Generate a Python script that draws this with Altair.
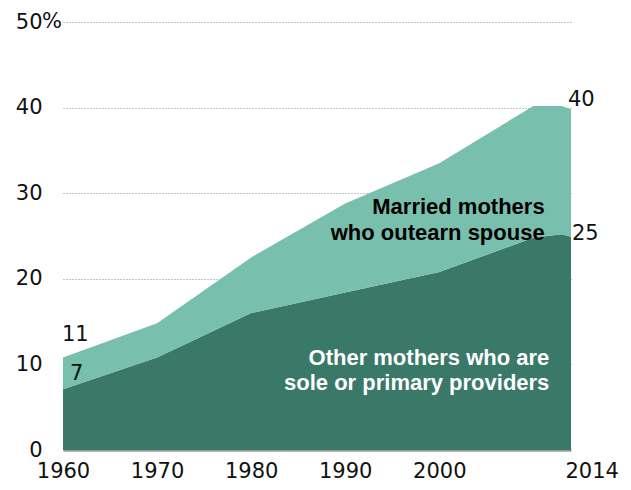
import altair as alt
import pandas as pd

years = [1960, 1970, 1980, 1990, 2000, 2010, 2013, 2014]
other_mothers = [7.1, 10.8, 16.0, 18.4, 20.8, 24.8, 25.2, 24.9]
married_mothers = [3.7, 4.0, 6.5, 10.4, 12.7, 15.4, 15.0, 14.9]
series_names = ["Other mothers who are sole or primary providers",
                "Married mothers who outearn spouse"]
series_colors = ["#3a7868", "#78bfad"]
x_ticks = [1960, 1970, 1980, 1990, 2000, 2014]
y_ticks = [0, 10, 20, 30, 40, 50]

rows = []
for i, yr in enumerate(years):
    rows.append({"year": yr, "series": series_names[0], "value": other_mothers[i], "ord": 0})
    rows.append({"year": yr, "series": series_names[1], "value": married_mothers[i], "ord": 1})
df = pd.DataFrame(rows)

W, H = 508, 428
TICK_FONT = "DejaVu Sans"

x_scale = alt.Scale(domain=[1960, 2014], nice=False, zero=False)
y_scale = alt.Scale(domain=[0, 50], nice=False)

area = alt.Chart(df).mark_area(opacity=1).encode(
    x=alt.X("year:Q", scale=x_scale, title=None,
            axis=alt.Axis(values=x_ticks, format="d", grid=False, ticks=False,
                          domain=True, domainColor="#9a9a9a", domainWidth=2.5,
                          labelFont=TICK_FONT, labelFontSize=21, labelColor="#111",
                          labelPadding=10, labelBaseline="top",
                          labelAlign=alt.condition("datum.value == 2014", alt.value("left"), alt.value("center")),
                          labelOffset=alt.condition("datum.value == 2014", alt.value(-6), alt.value(0)),
                          labelFlush=False, labelOverlap=False)),
    y=alt.Y("value:Q", stack="zero", scale=y_scale, title=None,
            axis=alt.Axis(values=y_ticks, grid=True, gridColor="#8a8a8a", gridDash=[1, 2],
                          gridWidth=1,
                          gridOpacity=alt.condition("datum.value == 0", alt.value(0), alt.value(1)),
                          ticks=False, domain=False,
                          labelFont=TICK_FONT, labelFontSize=21, labelColor="#111",
                          labelPadding=21, labelAlign="right", labelBaseline="middle")),
    color=alt.Color("series:N", scale=alt.Scale(domain=series_names, range=series_colors), legend=None),
    order=alt.Order("ord:Q"),
)

pct = alt.Chart(pd.DataFrame({"v": [50], "t": ["%"]})).mark_text(
    align="left", baseline="middle", font=TICK_FONT, fontSize=21, color="#111", dx=-21
).encode(x=alt.value(0), y=alt.Y("v:Q", scale=y_scale), text="t:N")

def vlabel(year, val, txt, dx, dy):
    return alt.Chart(pd.DataFrame({"year": [year], "v": [val], "t": [txt]})).mark_text(
        align="left", baseline="alphabetic", font=TICK_FONT, fontSize=21, color="#111", dx=dx, dy=dy
    ).encode(x=alt.X("year:Q", scale=x_scale), y=alt.Y("v:Q", scale=y_scale), text="t:N")

total_1960 = other_mothers[0] + married_mothers[0]
total_2014 = other_mothers[-1] + married_mothers[-1]
lab11 = vlabel(1960, total_1960, "11", -1, -17)
lab7 = vlabel(1960, other_mothers[0], "7", 7, -9)
lab40 = vlabel(2014, total_2014, "40", -3, -3)
lab25 = vlabel(2014, other_mothers[-1], "25", 1, 3)

ann_married = alt.Chart(pd.DataFrame({"year": [2011.2], "v": [27.6], "t": [["Married mothers", "who outearn spouse"]]})).mark_text(
    align="right", baseline="alphabetic", font="Liberation Sans", fontWeight="bold", fontSize=22,
    lineHeight=26, color="#000"
).encode(x=alt.X("year:Q", scale=x_scale), y=alt.Y("v:Q", scale=y_scale), text="t")

ann_other = alt.Chart(pd.DataFrame({"year": [2011.7], "v": [9.9], "t": [["Other mothers who are", "sole or primary providers"]]})).mark_text(
    align="right", baseline="alphabetic", font="Liberation Sans", fontWeight="bold", fontSize=22,
    lineHeight=25, color="#ffffff"
).encode(x=alt.X("year:Q", scale=x_scale), y=alt.Y("v:Q", scale=y_scale), text="t")

chart = alt.layer(area, pct, lab11, lab7, lab40, lab25, ann_married, ann_other).properties(
    width=W, height=H,
    autosize=alt.AutoSizeParams(type="none"),
    padding={"left": 55, "top": 14, "right": 52, "bottom": 32},
    background="#ffffff",
).configure_view(stroke=None)

chart.save("out.html", embed_options={"renderer": "svg", "actions": False})
